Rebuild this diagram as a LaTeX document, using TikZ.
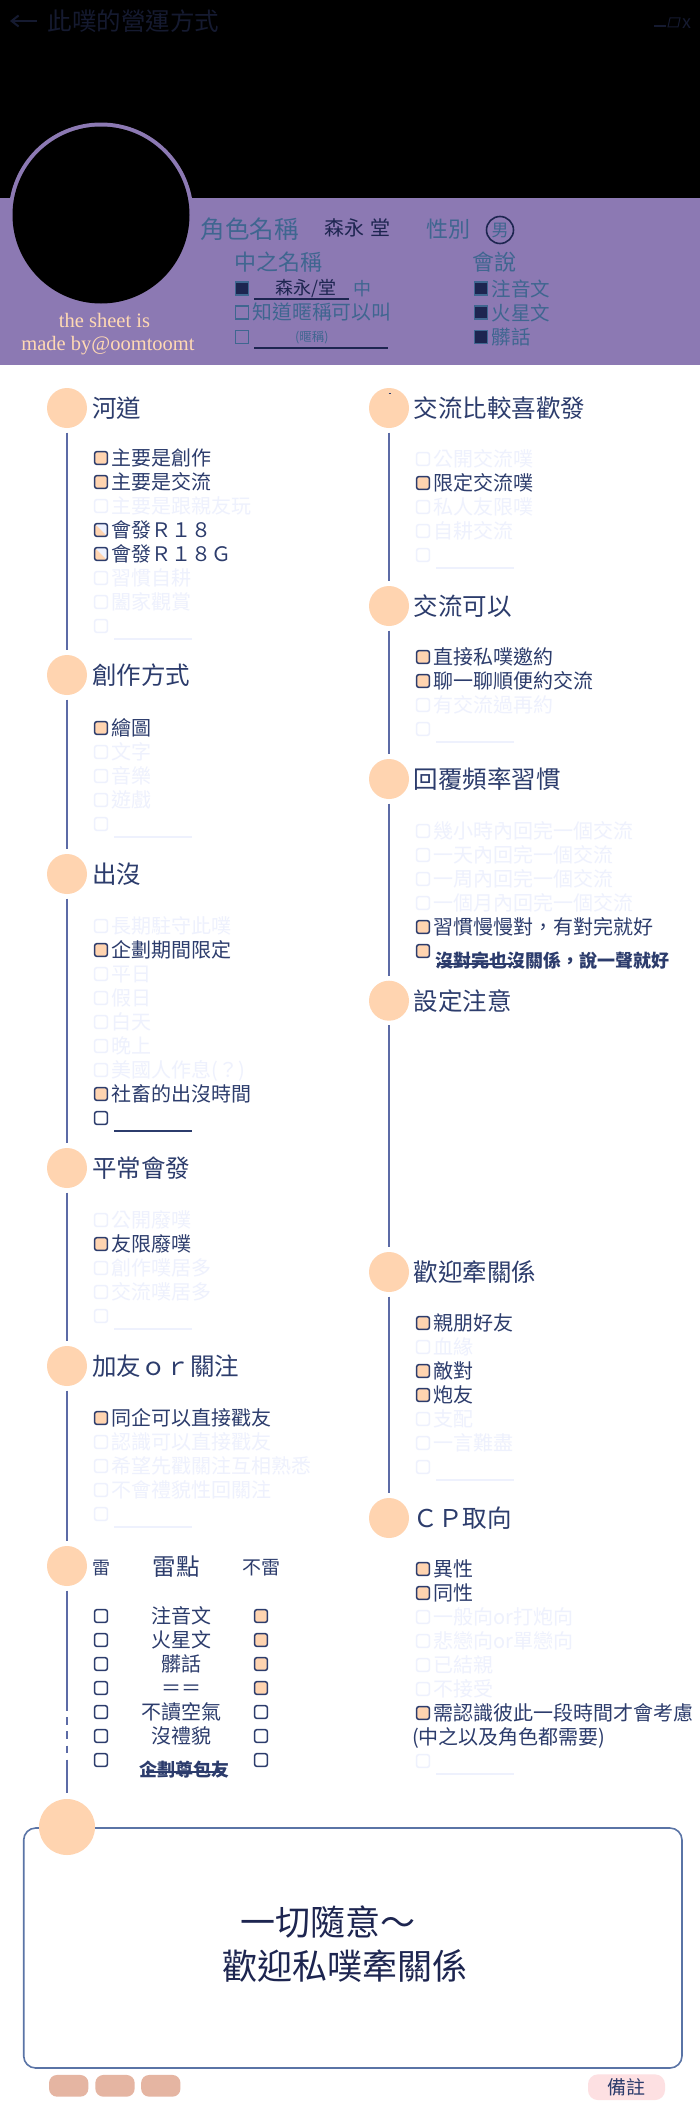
\documentclass[tikz,border=0pt]{standalone}
\usepackage{fontspec}
\usetikzlibrary{arrows.meta}
\setmainfont{Noto Sans CJK TC}
\newfontfamily\latinserif{Liberation Serif}
\definecolor{peach}{HTML}{FFD4B0}
\definecolor{navy}{HTML}{2C3C6C}
\definecolor{ink}{HTML}{1D2550}
\definecolor{ghost}{HTML}{EEF1FD}
\definecolor{steel}{HTML}{3F6690}
\definecolor{band}{HTML}{8C79B3}
\definecolor{spinecol}{HTML}{5C6BA6}
\definecolor{cream}{HTML}{FFD9B3}
\definecolor{titlecol}{HTML}{151A30}
\definecolor{framecol}{HTML}{5A74A6}
\definecolor{tabcol}{HTML}{E5B5A2}
\definecolor{notecol}{HTML}{FDE0E2}
\tikzset{
  x=1pt,y=-1pt,
  dot/.style={circle,fill=peach,draw=none,minimum size=40pt,inner sep=0},
  spine/.style={draw=spinecol,line width=1.5pt,shorten <=4.5pt,shorten >=4.5pt},
  head/.style={anchor=base west,inner sep=0,text=navy,yshift=-9.3pt,font=\fontsize{24.5}{28}\selectfont},
  lblon/.style={anchor=base west,inner sep=0,text=navy,yshift=-7.6pt,font=\fontsize{20}{24}\selectfont},
  lbloff/.style={lblon,text=ghost},
  lblbold/.style={lblon,font=\bfseries\fontsize{18}{22}\selectfont,yshift=-6.8pt},
  lblmid/.style={lblon,anchor=base},
  chk/.style={rectangle,rounded corners=2pt,minimum size=12.6pt,inner sep=0,line width=1.5pt},
  boxon/.style={chk,draw=navy,fill=peach},
  boxoff/.style={chk,draw=ghost,fill=white},
  boxempty/.style={chk,draw=navy,fill=white},
  boxhalf/.style={chk,draw=navy,fill=ghost,path picture={\fill[peach] (path picture bounding box.north west) -- (path picture bounding box.south east) -- (path picture bounding box.south west) -- cycle;}},
  boxdark/.style={rectangle,minimum size=12.6pt,inner sep=0,line width=1.5pt,draw=steel,fill=ink},
  boxline/.style={rectangle,minimum size=12.6pt,inner sep=0,line width=1.5pt,draw=steel},
  rule/.style={line width=1.8pt},
  toplbl/.style={anchor=base west,inner sep=0,text=steel},
}
\newcommand{\opt}[6]{\node[#4] (b#1) at (#2,#3) {}; \node[#5] (t#1) at (#2+10.5,#3) {#6};}
\newcommand{\blankon}[3]{\node[boxempty] (b#1) at (#2,#3) {}; \draw[rule,navy] (#2+13,#3+12.7) -- (#2+90.5,#3+12.7);}
\newcommand{\blankoff}[3]{\node[boxoff] (b#1) at (#2,#3) {}; \draw[rule,ghost] (#2+13,#3+12.7) -- (#2+90.5,#3+12.7);}
\begin{document}
\begin{tikzpicture}
\useasboundingbox (0,0) rectangle (700,2125);
\fill[white] (0,0) rectangle (700,2125);
\fill[black] (0,0) rectangle (700,198);
\fill[band] (0,198) rectangle (700,365);
\fill[band] (101,215) circle[radius=92.5];
\fill[black] (101,215) circle[radius=88.5];
% title bar
\coordinate (arrowtail) at (37,21);
\coordinate (arrowhead) at (10,21);
\draw[titlecol,line width=2pt,-{Straight Barb[length=7pt,width=11pt]}] (arrowtail) -- (arrowhead);
\node[anchor=base west,inner sep=0,text=titlecol,font=\fontsize{24.5}{28}\selectfont] (title) at (47.5,31) {此噗的營運方式};
\draw[titlecol,line width=1.4pt] (654,26) -- (666,26);
\draw[titlecol,line width=1pt] (670,18) -- (680,18) -- (678,27) -- (668,27) -- cycle;
\node[anchor=base,inner sep=0,text=titlecol,font=\itshape\fontsize{18}{20}\selectfont] (closex) at (687,29) {x};
% profile
\node[toplbl,font=\fontsize{24.5}{28}\selectfont] (namelab) at (200.5,238) {角色名稱};
\node[toplbl,text=ink,font=\fontsize{20}{24}\selectfont] (nameval) at (324,235) {森永\hspace{6.5pt}堂};
\node[toplbl,font=\fontsize{22}{26}\selectfont] (sexlab) at (426,237.5) {性別};
\node[circle,draw=ink,line width=1.6pt,minimum size=27pt,inner sep=0,text=steel,font=\fontsize{17}{20}\selectfont] (sexval) at (500,230) {男};
\node[toplbl,font=\fontsize{22}{26}\selectfont] (midlab) at (234,270.5) {中之名稱};
\node[toplbl,font=\fontsize{22}{26}\selectfont] (speaklab) at (472,270.5) {會說};
\node[boxdark] (n1) at (242,288.5) {};
\node[toplbl,text=ink,font=\fontsize{18}{22}\selectfont] (n1val) at (275,294) {森永/堂};
\draw[rule,ink] (254,299) -- (349,299);
\node[toplbl,font=\fontsize{18}{22}\selectfont] (n1suf) at (353,295) {中};
\node[boxline] (n2) at (242,312.5) {};
\node[toplbl,font=\fontsize{19.8}{24}\selectfont] (n2t) at (252.5,319.5) {知道暱稱可以叫};
\node[boxline] (n3) at (242,337) {};
\node[toplbl,font=\itshape\fontsize{12.5}{15}\selectfont] (n3t) at (295,341.5) {(暱稱)};
\draw[rule,ink] (254,348) -- (388,348);
\node[boxdark] (s1) at (481,288.5) {};
\node[toplbl,font=\fontsize{19.5}{24}\selectfont] (s1t) at (491.5,296) {注音文};
\node[boxdark] (s2) at (481,312.5) {};
\node[toplbl,font=\fontsize{19.5}{24}\selectfont] (s2t) at (491.5,320) {火星文};
\node[boxdark] (s3) at (481,337) {};
\node[toplbl,font=\fontsize{19.5}{24}\selectfont] (s3t) at (491.5,344.5) {髒話};
\node[anchor=base,inner sep=0,text=cream,font=\latinserif\fontsize{20.5}{24}\selectfont] (cr1) at (104.5,327) {the sheet is};
\node[anchor=base,inner sep=0,text=cream,font=\latinserif\fontsize{20.5}{24}\selectfont] (cr2) at (108,350) {made by@oomtoomt};
% left column
\node[dot] (a1) at (67,408) {};
\node[dot] (a2) at (67,675) {};
\node[dot] (a3) at (67,874) {};
\node[dot] (a4) at (67,1168) {};
\node[dot] (a5) at (67,1366) {};
\node[dot] (a6) at (67,1566) {};
\draw[framecol,line width=1.6pt,rounded corners=12pt] (23.7,1828) rectangle (682,2068);
\node[dot,minimum size=56pt] (a7) at (67,1827) {};
\draw[spine] (a1) -- (a2);
\draw[spine] (a2) -- (a3);
\draw[spine] (a3) -- (a4);
\draw[spine] (a4) -- (a5);
\draw[spine] (a5) -- (a6);
\draw[spine,dash pattern=on 120pt off 6.7pt on 7.3pt off 6.7pt on 7.3pt off 7pt on 7pt off 7pt on 33pt off 300pt] (a6) -- (a7);
\node[head] (ha1) at (92,408) {河道};
\opt{a11}{101}{458}{boxon}{lblon}{主要是創作}
\opt{a12}{101}{482}{boxon}{lblon}{主要是交流}
\opt{a13}{101}{506}{boxoff}{lbloff}{主要是跟親友玩}
\opt{a14}{101}{530}{boxhalf}{lblon}{會發Ｒ１８}
\opt{a15}{101}{554}{boxhalf}{lblon}{會發Ｒ１８Ｇ}
\opt{a16}{101}{578}{boxoff}{lbloff}{習慣自耕}
\opt{a17}{101}{602}{boxoff}{lbloff}{闔家觀賞}
\blankoff{a18}{101}{626}
\node[head] (ha2) at (92,675) {創作方式};
\opt{a21}{101}{728}{boxon}{lblon}{繪圖}
\opt{a22}{101}{752}{boxoff}{lbloff}{文字}
\opt{a23}{101}{776}{boxoff}{lbloff}{音樂}
\opt{a24}{101}{800}{boxoff}{lbloff}{遊戲}
\blankoff{a25}{101}{824}
\node[head] (ha3) at (92,874) {出沒};
\opt{a31}{101}{926}{boxoff}{lbloff}{長期駐守此噗}
\opt{a32}{101}{950}{boxon}{lblon}{企劃期間限定}
\opt{a33}{101}{974}{boxoff}{lbloff}{平日}
\opt{a34}{101}{998}{boxoff}{lbloff}{假日}
\opt{a35}{101}{1022}{boxoff}{lbloff}{白天}
\opt{a36}{101}{1046}{boxoff}{lbloff}{晚上}
\opt{a37}{101}{1070}{boxoff}{lbloff}{美國人作息(？)}
\opt{a38}{101}{1094}{boxon}{lblon}{社畜的出沒時間}
\blankon{a39}{101}{1118}
\node[head] (ha4) at (92,1168) {平常會發};
\opt{a41}{101}{1220}{boxoff}{lbloff}{公開廢噗}
\opt{a42}{101}{1244}{boxon}{lblon}{友限廢噗}
\opt{a43}{101}{1268}{boxoff}{lbloff}{創作噗居多}
\opt{a44}{101}{1292}{boxoff}{lbloff}{交流噗居多}
\blankoff{a45}{101}{1316}
\node[head] (ha5) at (92,1366) {加友ｏｒ關注};
\opt{a51}{101}{1418}{boxon}{lblon}{同企可以直接戳友}
\opt{a52}{101}{1442}{boxoff}{lbloff}{認識可以直接戳友}
\opt{a53}{101}{1466}{boxoff}{lbloff}{希望先戳關注互相熟悉}
\opt{a54}{101}{1490}{boxoff}{lbloff}{不會禮貌性回關注}
\blankoff{a55}{101}{1514}
\node[anchor=base west,inner sep=0,text=navy,font=\fontsize{18}{22}\selectfont] (lei) at (92,1574) {雷};
\node[anchor=base west,inner sep=0,text=navy,font=\fontsize{23.5}{28}\selectfont] (leidian) at (152.5,1575) {雷點};
\node[anchor=base west,inner sep=0,text=navy,font=\fontsize{19}{23}\selectfont] (bulei) at (242,1574.5) {不雷};
\node[boxempty] (l1) at (101,1616) {}; \node[boxon] (r1) at (261,1616) {}; \node[lblmid] (m1) at (181,1616) {注音文};
\node[boxempty] (l2) at (101,1640) {}; \node[boxon] (r2) at (261,1640) {}; \node[lblmid] (m2) at (181,1640) {火星文};
\node[boxempty] (l3) at (101,1664) {}; \node[boxon] (r3) at (261,1664) {}; \node[lblmid] (m3) at (181,1664) {髒話};
\node[boxempty] (l4) at (101,1688) {}; \node[boxon] (r4) at (261,1688) {}; \node[lblmid] (m4) at (181,1688) {＝＝};
\node[boxempty] (l5) at (101,1712) {}; \node[boxempty] (r5) at (261,1712) {}; \node[lblmid] (m5) at (181,1712) {不讀空氣};
\node[boxempty] (l6) at (101,1736) {}; \node[boxempty] (r6) at (261,1736) {}; \node[lblmid] (m6) at (181,1736) {沒禮貌};
\node[boxempty] (l7) at (101,1760) {}; \node[boxempty] (r7) at (261,1760) {};
\node[lblbold,anchor=base] (m7) at (184.5,1761.7) {企劃尊包友};
\draw[rule,navy] (145.7,1772) -- (222,1772);
% right column
\node[dot] (c1) at (389,408) {};
\node[dot] (c2) at (389,606) {};
\node[dot] (c3) at (389,779) {};
\node[dot] (c4) at (389,1000.7) {};
\node[dot] (c5) at (389,1272) {};
\node[dot] (c6) at (389,1518) {};
\draw[spine] (c1) -- (c2);
\draw[spine] (c2) -- (c3);
\draw[spine] (c3) -- (c4);
\draw[spine] (c4) -- (c5);
\draw[spine] (c5) -- (c6);
\draw[navy,line width=.7pt] (388.7,393) -- (390.7,393);
\node[head] (hc1) at (413.5,408.5) {交流比較喜歡發};
\opt{c11}{423}{459}{boxoff}{lbloff}{公開交流噗}
\opt{c12}{423}{483}{boxon}{lblon}{限定交流噗}
\opt{c13}{423}{507}{boxoff}{lbloff}{私人友限噗}
\opt{c14}{423}{531}{boxoff}{lbloff}{自耕交流}
\blankoff{c15}{423}{555}
\node[head] (hc2) at (413.5,606.5) {交流可以};
\opt{c21}{423}{657}{boxon}{lblon}{直接私噗邀約}
\opt{c22}{423}{681}{boxon}{lblon}{聊一聊順便約交流}
\opt{c23}{423}{705}{boxoff}{lbloff}{有交流過再約}
\blankoff{c24}{423}{729}
\node[head] (hc3) at (413.5,779.5) {回覆頻率習慣};
\opt{c31}{423}{831}{boxoff}{lbloff}{幾小時內回完一個交流}
\opt{c32}{423}{855}{boxoff}{lbloff}{一天內回完一個交流}
\opt{c33}{423}{879}{boxoff}{lbloff}{一周內回完一個交流}
\opt{c34}{423}{903}{boxoff}{lbloff}{一個月內回完一個交流}
\opt{c35}{423}{927}{boxon}{lblon}{習慣慢慢對，有對完就好}
\node[boxon] (bc36) at (423,951) {};
\node[lblbold] (tc36) at (435,953) {沒對完也沒關係，說一聲就好};
\draw[rule,navy] (437,964) -- (514,964);
\node[head] (hc4) at (413.5,1001.5) {設定注意};
\node[head] (hc5) at (413.5,1272.5) {歡迎牽關係};
\opt{c51}{423}{1323}{boxon}{lblon}{親朋好友}
\opt{c52}{423}{1347}{boxoff}{lbloff}{血緣}
\opt{c53}{423}{1371}{boxon}{lblon}{敵對}
\opt{c54}{423}{1395}{boxon}{lblon}{炮友}
\opt{c55}{423}{1419}{boxoff}{lbloff}{支配}
\opt{c56}{423}{1443}{boxoff}{lbloff}{一言難盡}
\blankoff{c57}{423}{1467}
\node[head] (hc6) at (413.5,1518.5) {ＣＰ取向};
\opt{c61}{423}{1569}{boxon}{lblon}{異性}
\opt{c62}{423}{1593}{boxon}{lblon}{同性}
\opt{c63}{423}{1617}{boxoff}{lbloff}{一般向or打炮向}
\opt{c64}{423}{1641}{boxoff}{lbloff}{悲戀向or單戀向}
\opt{c65}{423}{1665}{boxoff}{lbloff}{已結親}
\opt{c66}{423}{1689}{boxoff}{lbloff}{不接受}
\opt{c67}{423}{1713}{boxon}{lblon}{需認識彼此一段時間才會考慮}
\node[lblon] (tc68) at (412,1737) {(中之以及角色都需要)};
\blankoff{c69}{423}{1761}
% bottom card
\node[anchor=base west,inner sep=0,text=ink,font=\fontsize{35}{40}\selectfont] (big1) at (240,1935) {一切隨意～};
\node[anchor=base west,inner sep=0,text=ink,font=\fontsize{35}{40}\selectfont] (big2) at (222,1979) {歡迎私噗牽關係};
\node[rectangle,rounded corners=8pt,fill=tabcol,minimum width=39.3pt,minimum height=21.7pt,inner sep=0] (tab1) at (68.7,2085.8) {};
\node[rectangle,rounded corners=8pt,fill=tabcol,minimum width=39.3pt,minimum height=21.7pt,inner sep=0] (tab2) at (115,2085.8) {};
\node[rectangle,rounded corners=8pt,fill=tabcol,minimum width=39.3pt,minimum height=21.7pt,inner sep=0] (tab3) at (160.8,2085.8) {};
\node[rectangle,rounded corners=10pt,fill=notecol,minimum width=77pt,minimum height=25.7pt,inner sep=0,text=navy,font=\fontsize{19}{22}\selectfont] (note) at (626.5,2087.2) {備註};
\end{tikzpicture}
\end{document}
